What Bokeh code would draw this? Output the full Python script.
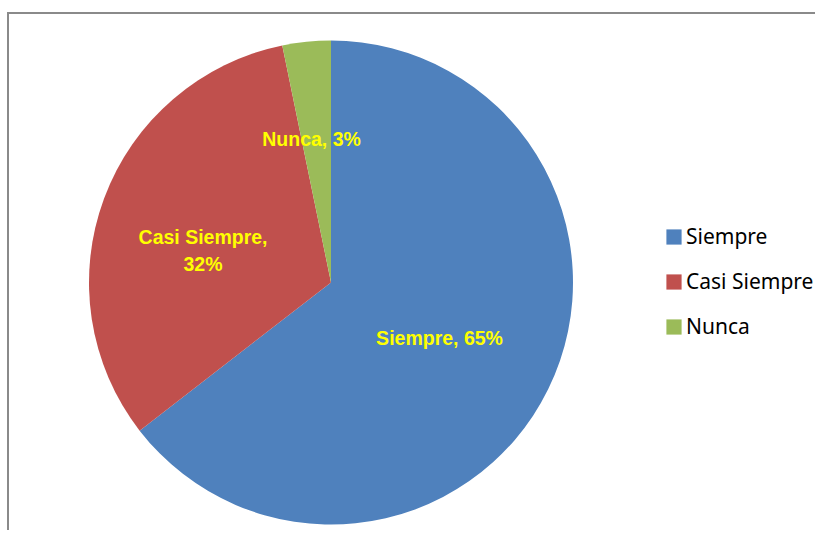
import numpy as np
from bokeh.plotting import figure
from bokeh.models import Range1d, Legend, LegendItem, ColumnDataSource
from bokeh.core.properties import value
from bokeh.embed import file_html
from bokeh.resources import INLINE

categories = ["Siempre", "Casi Siempre", "Nunca"]
counts = [20, 10, 1]
colors = ["#4F81BD", "#C0504D", "#9BBB59"]
label_breaks = [", ", ",\n", ", "]
label_radius = [0.503, 0.545, 0.6]
label_shift_deg = [-0.8, 6.3, 1.9]

W, H = 815, 530
cx, cy, R = 330.5, 248, 242

frac = np.array(counts, dtype=float) / sum(counts)
pct = np.round(frac * 100).astype(int)
label_texts = [f"{c}{b}{v}%" for c, b, v in zip(categories, label_breaks, pct)]
cum = np.concatenate([[0], np.cumsum(frac)])
start = np.pi / 2 - 2 * np.pi * cum[:-1]
end = np.pi / 2 - 2 * np.pi * cum[1:]
mid = (start + end) / 2 + np.radians(label_shift_deg)
lx = cx + np.array(label_radius) * R * np.cos(mid)
ly = cy + np.array(label_radius) * R * np.sin(mid)

p = figure(width=W, height=H, output_backend="svg", toolbar_location=None,
           x_range=Range1d(0, W), y_range=Range1d(0, H),
           x_axis_location=None, y_axis_location=None, min_border=0)
p.grid.visible = False
p.outline_line_color = None
p.background_fill_color = "white"

# chart area border (partially visible)
p.line([7.5, 7.5], [-10, 518], line_color="#8a8a8a", line_width=2)
p.line([6.5, W + 10], [517.5, 517.5], line_color="#8a8a8a", line_width=2)

src = ColumnDataSource(dict(cat=categories, start=start, end=end, color=colors))
r = p.wedge(x=cx, y=cy, radius=R, start_angle="start", end_angle="end",
            direction="clock", fill_color="color", line_color=None, source=src)

p.text(x=lx, y=ly, text=label_texts, text_color="#FFFF00",
       text_font=value("Liberation Sans"), text_font_style="bold",
       text_font_size="19.5px", text_align="center", text_baseline="middle",
       text_line_height=1.2)

items = [LegendItem(label=c, renderers=[r], index=i) for i, c in enumerate(categories)]
legend = Legend(items=items, location=(664, 189), orientation="vertical",
                border_line_color=None, background_fill_alpha=0,
                label_text_font="Noto Sans", label_text_font_size="21px",
                label_text_color="#000000", glyph_width=19, glyph_height=19,
                label_standoff=3, spacing=15, label_height=30, padding=0, margin=0)
p.add_layout(legend, "center")

open("out.html", "w").write(file_html(p, INLINE))
